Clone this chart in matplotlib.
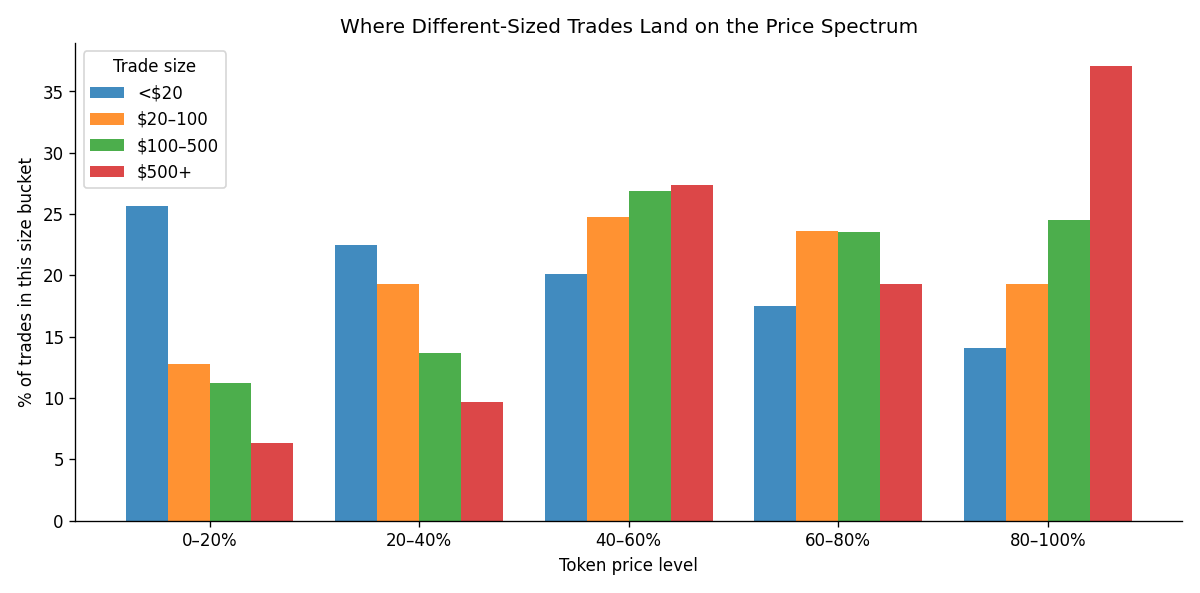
import numpy as np
import matplotlib
matplotlib.use('Agg')
import matplotlib.pyplot as plt

# data
price_levels = ['0–20%', '20–40%', '40–60%', '60–80%', '80–100%']
size_buckets = ['<$20', '$20–100', '$100–500', '$500+']
under_20 = [25.7, 22.5, 20.1, 17.5, 14.1]
from_20_100 = [12.8, 19.3, 24.8, 23.6, 19.3]
from_100_500 = [11.2, 13.7, 26.9, 23.5, 24.5]
over_500 = [6.3, 9.7, 27.4, 19.3, 37.1]
colors = ['#1f77b4', '#ff7f0e', '#2ca02c', '#d62728']

series = [under_20, from_20_100, from_100_500, over_500]

fig, ax = plt.subplots(figsize=(10, 4.942), dpi=120)
x = np.arange(len(price_levels))
width = 0.2
for i, (vals, label, c) in enumerate(zip(series, size_buckets, colors)):
    ax.bar(x + (i - 1.5) * width, vals, width, label=label, color=c, alpha=0.85)

ax.set_xticks(x)
ax.set_xticklabels(price_levels)
ax.set_xlabel('Token price level')
ax.set_ylabel('% of trades in this size bucket')
ax.set_title('Where Different-Sized Trades Land on the Price Spectrum')
ax.legend(title='Trade size', loc='upper left')
ax.spines['top'].set_visible(False)
ax.spines['right'].set_visible(False)

plt.tight_layout()
plt.savefig('out.png')
